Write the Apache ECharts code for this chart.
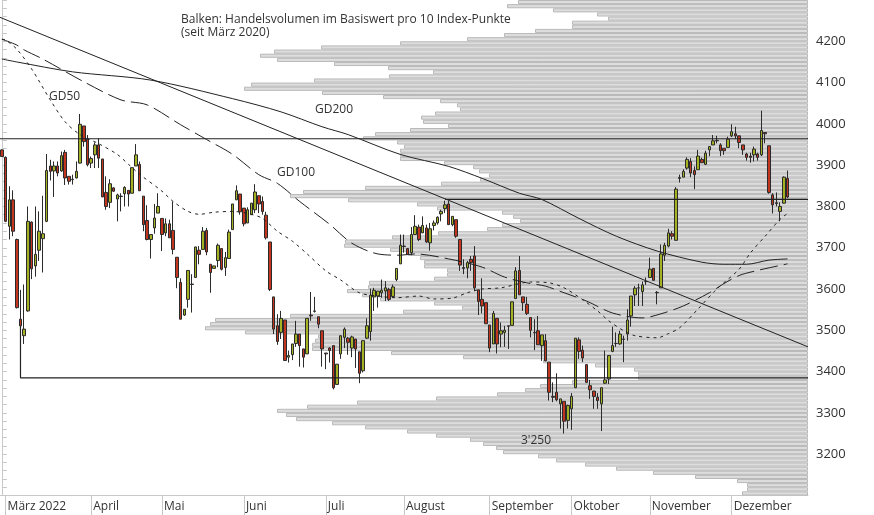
<!DOCTYPE html>
<html><head><meta charset="utf-8">
<script src="https://cdn.jsdelivr.net/npm/echarts/dist/echarts.min.js"></script>
<style>html,body{margin:0;padding:0;background:#fff}#c{width:874px;height:515px}</style>
</head><body><div id="c"></div>
<script>
// ---- data ----
const holidays = ['2022-04-15','2022-04-18','2022-12-26'];
const firstDay = [2022, 1, 28], lastDay = [2022, 11, 30];
const monthNames = ['Januar','Februar','März','April','Mai','Juni','Juli','August','September','Oktober','November','Dezember'];
const yTicks = {min: 3100, max: 4300, step: 100};

// OHLC per trading day from 28 Feb 2022: [open, high, low, close]
const ohlc = [
[3937,3938,3920,3921],[3919,3921,3762,3764],[3752,3849,3720,3816],[3816,3839,3728,3740],[3720,3722,3553,3555],
[3527,3598,3480,3511],[3487,3611,3467,3503],[3547,3800,3545,3764],[3762,3764,3624,3649],[3656,3800,3630,3684],
[3694,3788,3668,3740],[3722,3826,3640,3734],[3764,3927,3762,3887],[3898,3913,3863,3885],[3886,3909,3823,3898],
[3898,3909,3873,3881],[3886,3933,3884,3923],[3931,3937,3852,3869],[3873,3873,3853,3861],[3866,3877,3853,3865],
[3869,3909,3868,3885],[3905,4024,3904,3999],[3995,3995,3945,3957],[3963,3973,3897,3901],[3905,3921,3893,3916],
[3925,3955,3893,3949],[3949,3965,3893,3917],[3915,3915,3823,3823],[3834,3873,3792,3800],[3810,3866,3796,3855],
[3845,3847,3835,3837],[3818,3831,3764,3828],[3824,3832,3788,3825],[3831,3849,3800,3846],[3839,3839,3800,3830],
[3832,3894,3832,3894],[3898,3951,3898,3925],[3902,3909,3838,3838],[3825,3825,3740,3756],[3766,3803,3718,3720],
[3720,3732,3674,3732],[3748,3806,3734,3772],[3784,3832,3784,3800],[3771,3771,3692,3732],[3736,3771,3728,3758],
[3758,3768,3724,3724],[3742,3812,3684,3696],[3677,3677,3602,3628],[3616,3626,3527,3527],[3537,3551,3535,3551],
[3575,3645,3555,3645],[3612,3636,3543,3611],[3628,3702,3628,3702],[3694,3704,3660,3684],[3696,3750,3696,3740],
[3742,3748,3682,3690],[3660,3660,3591,3640],[3650,3656,3650,3656],[3669,3710,3653,3706],[3698,3698,3645,3648],
[3652,3690,3632,3676],[3674,3744,3674,3738],[3744,3806,3744,3806],[3816,3851,3816,3838],[3830,3830,3780,3787],
[3796,3796,3752,3758],[3760,3798,3760,3792],[3780,3808,3780,3808],[3792,3854,3784,3835],[3826,3826,3784,3806],
[3812,3824,3780,3788],[3779,3787,3720,3724],[3714,3714,3595,3599],[3581,3581,3491,3503],[3511,3539,3465,3473],
[3495,3547,3479,3529],[3525,3525,3427,3427],[3435,3451,3422,3439],[3441,3467,3428,3467],[3468,3523,3460,3491],
[3491,3491,3412,3463],[3455,3455,3410,3435],[3443,3529,3443,3529],[3537,3593,3523,3535],[3547,3581,3543,3546],
[3533,3533,3505,3515],[3499,3499,3412,3455],[3445,3445,3406,3443],[3457,3459,3422,3451],[3463,3463,3357,3361],
[3369,3418,3369,3418],[3443,3487,3431,3487],[3483,3507,3457,3503],[3481,3484,3441,3471],[3457,3487,3435,3484],
[3479,3479,3409,3455],[3448,3448,3372,3396],[3402,3475,3398,3475],[3481,3529,3479,3511],[3497,3601,3475,3585],
[3581,3603,3547,3597],[3583,3595,3555,3595],[3591,3623,3579,3597],[3595,3619,3571,3603],[3599,3603,3571,3575],
[3582,3611,3581,3605],[3623,3650,3619,3650],[3661,3732,3661,3706],[3704,3732,3688,3703],[3698,3698,3684,3684],
[3688,3750,3682,3732],[3732,3779,3732,3752],[3750,3756,3716,3720],[3736,3776,3736,3754],[3748,3756,3712,3714],
[3712,3760,3693,3746],[3754,3766,3742,3760],[3760,3776,3756,3774],[3782,3792,3764,3788],[3795,3814,3784,3804],
[3806,3814,3756,3756],[3756,3776,3752,3776],[3768,3768,3724,3728],[3720,3720,3644,3658],[3652,3672,3636,3650],
[3651,3668,3626,3664],[3672,3680,3644,3664],[3680,3704,3595,3603],[3598,3598,3537,3570],[3575,3626,3541,3559],
[3567,3567,3516,3516],[3513,3513,3447,3457],[3467,3547,3467,3541],[3529,3529,3444,3467],[3491,3519,3459,3499],
[3495,3511,3460,3500],[3511,3511,3455,3510],[3512,3569,3512,3569],[3577,3653,3577,3644],[3645,3680,3586,3586],
[3581,3581,3547,3567],[3563,3581,3537,3541],[3531,3531,3483,3500],[3495,3527,3452,3494],[3499,3535,3465,3465],
[3463,3489,3426,3489],[3475,3491,3425,3426],[3423,3423,3330,3350],[3340,3374,3326,3338],[3350,3396,3328,3332],
[3322,3334,3262,3334],[3328,3328,3250,3280],[3282,3320,3262,3318],[3310,3348,3259,3340],[3361,3481,3361,3481],
[3477,3483,3431,3449],[3452,3463,3423,3433],[3417,3417,3374,3374],[3366,3380,3334,3356],[3353,3353,3310,3340],
[3338,3348,3310,3330],[3322,3361,3256,3361],[3372,3451,3370,3380],[3382,3439,3370,3439],[3449,3509,3447,3463],
[3468,3495,3460,3468],[3467,3499,3465,3491],[3479,3487,3423,3478],[3491,3551,3475,3525],[3535,3583,3509,3583],
[3586,3607,3559,3602],[3603,3613,3559,3603],[3594,3618,3559,3610],[3618,3628,3610,3618],[3628,3676,3628,3648],
[3650,3650,3621,3621],[3592,3595,3563,3591],[3603,3708,3603,3685],[3682,3712,3668,3706],[3704,3746,3701,3736],
[3734,3740,3720,3728],[3718,3847,3718,3842],[3868,3877,3858,3870],[3871,3890,3871,3885],[3893,3919,3889,3914],
[3909,3917,3871,3881],[3887,3897,3842,3877],[3889,3937,3889,3922],[3914,3918,3905,3906],[3902,3935,3901,3929],
[3937,3945,3922,3945],[3949,3973,3949,3959],[3960,3971,3953,3959],[3949,3953,3922,3935],[3941,3941,3925,3935],
[3943,3969,3943,3963],[3971,3999,3968,3981],[3976,3993,3963,3971],[3971,3971,3941,3955],[3949,3949,3925,3937],
[3927,3930,3911,3919],[3922,3930,3906,3919],[3925,3945,3909,3939],[3927,3930,3911,3919],[3925,4032,3922,3984],
[3979,3979,3953,3976],[3947,3947,3831,3834],[3828,3832,3783,3804],[3809,3834,3800,3807],[3788,3810,3764,3800],
[3808,3873,3807,3871],[3868,3887,3820,3823]
];

// moving averages: [trading-day index, value]
const gd200 = [[0,4157],[4,4150],[19,4126],[40,4106],[62,4061],[75,4029],[86,3993],[93,3974],[107,3926],[120,3897],
[129,3868],[139,3832],[145,3817],[155,3771],[165,3728],[176,3692],[188,3665],[194,3660],[200,3660],[206,3670],[211,3673]];
const gd100 = [[0,4205],[4,4191],[6,4179],[11,4157],[22,4102],[32,4058],[39,4046],[48,3998],[55,3962],[62,3926],
[69,3877],[74,3856],[80,3812],[88,3757],[94,3711],[101,3685],[107,3682],[111,3685],[120,3673],[129,3653],[135,3629],
[141,3615],[146,3607],[151,3591],[157,3571],[164,3542],[172,3530],[177,3540],[183,3559],[190,3591],[195,3619],[199,3636],[211,3661]];
const gd50 = [[0,4205],[1,4203],[4,4181],[8,4133],[13,4058],[17,4005],[21,3974],[26,3952],[31,3926],[34,3902],[37,3878],
[43,3837],[46,3812],[50,3788],[53,3781],[57,3786],[62,3788],[67,3781],[70,3771],[74,3740],[78,3716],[82,3685],[87,3644],
[91,3622],[96,3591],[101,3583],[106,3579],[112,3583],[116,3576],[121,3578],[125,3591],[129,3600],[134,3603],[142,3617],
[147,3615],[151,3603],[156,3574],[160,3547],[163,3523],[167,3499],[170,3487],[176,3482],[179,3492],[182,3506],[187,3552],
[192,3600],[198,3648],[201,3687],[205,3728],[209,3769],[211,3783]];
const trendLine = [[-0.5,4258],[216.5,3460]];
const resistance = 3964, support = 3817, boxBottom = 3385;
const supportStart = 119, boxStart = 5, boxTop = 3511;

// volume profile: volume per 10-point bucket, from 4290-4300 downwards to 3100-3110
const profileTop = 4300, profileStep = 10;
const profileVolume = [290,301,255,211,200,236,236,273,304,341,
408,487,534,548,531,474,420,375,419,494,
557,564,486,425,368,351,348,373,387,385,
360,398,433,445,411,404,408,408,408,364,
335,329,319,328,367,443,505,518,460,391,
371,306,295,288,306,321,370,416,463,464,
418,400,388,384,384,361,361,374,439,440,
461,446,428,374,346,405,518,593,598,603,
563,490,493,496,496,417,345,265,213,174,
170,170,236,268,283,311,372,451,501,531,
522,512,476,443,401,372,338,325,312,305,
270,252,223,192,155,113,71,61,61,66];

// ---- build ----
function tradingDays(){
  const out=[]; let t=Date.UTC(firstDay[0],firstDay[1],firstDay[2]);
  const end=Date.UTC(lastDay[0],lastDay[1],lastDay[2]);
  while(t<=end){ const d=new Date(t); const wd=d.getUTCDay(); const s=d.toISOString().slice(0,10);
    if(wd!==0&&wd!==6&&holidays.indexOf(s)<0) out.push(s); t+=86400000; }
  return out;
}
const dates = tradingDays();
const nDays = dates.length;
const isMonthStart = (i)=> i>0 && dates[i].slice(5,7)!==dates[i-1].slice(5,7);
const profileLevels = profileVolume.map((_,i)=>String(profileTop-profileStep*(i+1)));
const candleData = ohlc.map(r=>[r[0],r[3],r[2],r[1]]);

const FONT = '"Open Sans", "DejaVu Sans", sans-serif';
const gridRect = {left:0, right:66, top:-2.2, height:497.7};
const lineBase = {type:'line', xAxisIndex:1, yAxisIndex:0, symbol:'none', silent:true, z:6, animation:false};

const chart = echarts.init(document.getElementById('c'), null, {renderer:'canvas'});
chart.setOption({
  animation:false,
  backgroundColor:'#ffffff',
  grid:[Object.assign({}, gridRect), Object.assign({}, gridRect)],
  xAxis:[
    {type:'category', gridIndex:0, data:dates, boundaryGap:true,
     axisLine:{show:true, lineStyle:{color:'#c8c8c8', width:1}},
     axisTick:{show:true, alignWithLabel:true, interval:(i)=>isMonthStart(i), length:20, lineStyle:{color:'#c8c8c8'}},
     axisLabel:{interval:(i)=>isMonthStart(i), align:'left', padding:[0,0,0,2], margin:5, fontSize:12, color:'#333', fontFamily:FONT,
       formatter:(v)=>{const m=+v.slice(5,7)-1; return monthNames[m]+(m===2?' '+v.slice(0,4):'');}},
     splitLine:{show:false}},
    {type:'value', gridIndex:0, min:-0.5, max:nDays-0.5, show:false, position:'top'},
    {type:'value', gridIndex:1, min:0, max:808, inverse:true, show:false}
  ],
  yAxis:[
    {type:'value', gridIndex:0, position:'right', min:yTicks.min, max:yTicks.max, interval:yTicks.step, scale:false,
     axisLine:{show:true, lineStyle:{color:'#c8c8c8'}},
     axisTick:{show:true, length:5, lineStyle:{color:'#c8c8c8'}},
     minorTick:{show:true, splitNumber:5, length:5, lineStyle:{color:'#c8c8c8'}},
     axisLabel:{showMinLabel:false, showMaxLabel:false, margin:8, fontSize:13, color:'#333', fontFamily:FONT,
       formatter:(v)=>String(Math.round(v))},
     splitLine:{show:false}},
    {type:'category', gridIndex:1, data:profileLevels, inverse:true, show:false, boundaryGap:true}
  ],
  series:[
    {type:'bar', xAxisIndex:2, yAxisIndex:1, data:profileVolume, barCategoryGap:'0%', silent:true, z:1,
     itemStyle:{color:'#dddddd', borderColor:'#b9b9b9', borderWidth:1}},
    {type:'candlestick', xAxisIndex:0, yAxisIndex:0, data:candleData, barWidth:3, z:5, silent:true,
     itemStyle:{color:'#a3b122', color0:'#c2351f', borderColor:'#2b2b2b', borderColor0:'#2b2b2b', borderWidth:1}},
    Object.assign({}, lineBase, {data:gd200, smooth:0.3, lineStyle:{color:'#222', width:1}}),
    Object.assign({}, lineBase, {data:gd100, smooth:0.3, lineStyle:{color:'#222', width:1, type:[18,6]}}),
    Object.assign({}, lineBase, {data:gd50, smooth:0.3, lineStyle:{color:'#222', width:1, type:[3,4]}}),
    Object.assign({}, lineBase, {data:trendLine, lineStyle:{color:'#222', width:1}}),
    Object.assign({}, lineBase, {data:[[-0.5,resistance],[nDays-0.5,resistance]], lineStyle:{color:'#222', width:1.2}}),
    Object.assign({}, lineBase, {data:[[supportStart,support],[nDays-0.5,support]], lineStyle:{color:'#222', width:1.2}}),
    Object.assign({}, lineBase, {data:[[boxStart,boxTop],[boxStart,boxBottom],[nDays-0.5,boxBottom]], lineStyle:{color:'#222', width:1.2}})
  ],
  graphic:[
    {type:'text', x:181, y:20, z:20, style:{text:'Balken: Handelsvolumen im Basiswert pro 10 Index-Punkte', font:'12px '+FONT, fill:'#333', verticalAlign:'middle'}},
    {type:'text', x:181, y:33, z:20, style:{text:'(seit März 2020)', font:'12px '+FONT, fill:'#333', verticalAlign:'middle'}},
    {type:'text', x:49, y:97, z:20, style:{text:'GD50', font:'12px '+FONT, fill:'#333', verticalAlign:'middle'}},
    {type:'text', x:315, y:110, z:20, style:{text:'GD200', font:'12px '+FONT, fill:'#333', verticalAlign:'middle'}},
    {type:'text', x:277, y:173, z:20, style:{text:'GD100', font:'12px '+FONT, fill:'#333', verticalAlign:'middle'}},
    {type:'text', x:521, y:441, z:20, style:{text:"3'250", font:'12px '+FONT, fill:'#333', verticalAlign:'middle'}}
  ]
});
</script></body></html>
